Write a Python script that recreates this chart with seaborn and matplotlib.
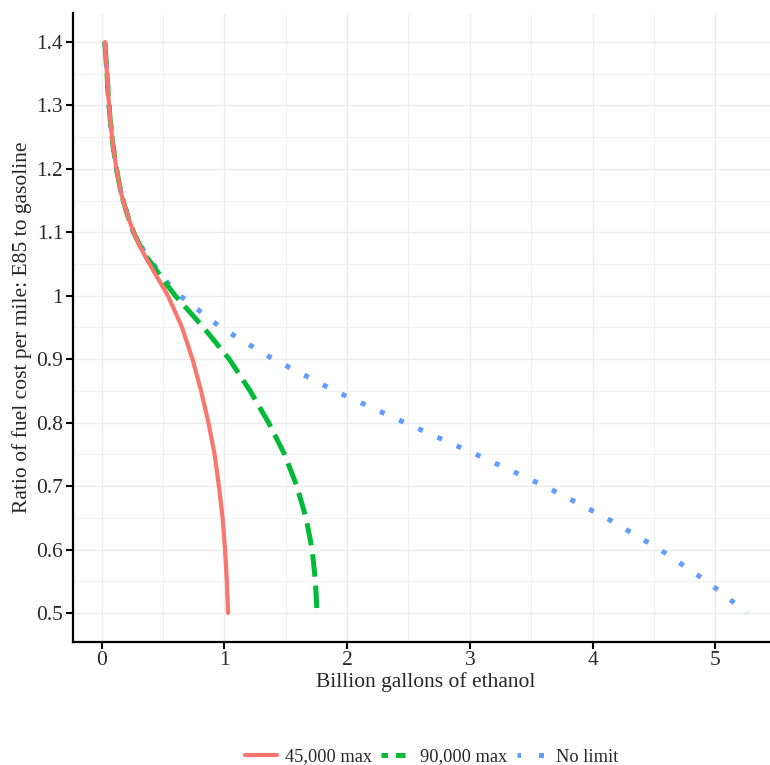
"""
E85 demand curves: fuel cost ratio vs. ethanol volume
"""

import matplotlib

matplotlib.use("Agg")
import matplotlib.pyplot as plt
import numpy as np
import pandas as pd
import seaborn as sns
from matplotlib.lines import Line2D
from matplotlib.ticker import MultipleLocator

# Ratio of fuel cost per mile (E85 / gasoline), shared by all three series
ratio = [1.40, 1.36, 1.32, 1.28, 1.24, 1.20, 1.16, 1.14, 1.12, 1.10, 1.08, 1.06, 1.05,
         1.02, 1.00, 0.95, 0.90, 0.85, 0.80, 0.75, 0.70, 0.65, 0.60, 0.55, 0.50]

# Billion gallons of ethanol for each scenario
gal_45k = [0.025, 0.04, 0.052, 0.068, 0.09, 0.12, 0.16, 0.19, 0.222, 0.26, 0.305, 0.36, 0.39,
           0.48, 0.54, 0.655, 0.74, 0.81, 0.87, 0.92, 0.955, 0.985, 1.005, 1.02, 1.03]
gal_90k = [0.025, 0.04, 0.052, 0.068, 0.09, 0.12, 0.16, 0.19, 0.222, 0.26, 0.31, 0.37, 0.41,
           0.52, 0.60, 0.83, 1.04, 1.21, 1.36, 1.49, 1.59, 1.665, 1.715, 1.742, 1.755]
gal_nolimit = [0.025, 0.04, 0.052, 0.068, 0.09, 0.12, 0.16, 0.19, 0.222, 0.26, 0.315, 0.38, 0.42,
               0.54, 0.64, 0.97, 1.40, 1.90, 2.47, 3.05, 3.61, 4.11, 4.55, 4.93, 5.26]

labels = ["45,000 max", "90,000 max", "No limit"]
colors = ["#F8766D", "#00BA38", "#619CFF"]

sns.set_theme(style="white")
plt.rcParams["font.family"] = ["Liberation Serif", "DejaVu Serif"]

fig = plt.figure(figsize=(7.7, 7.65), dpi=100)
ax = fig.add_axes([73 / 770, 1 - 641.5 / 765, (779 - 73) / 770, (641.5 - 13.5) / 765])

series = {labels[0]: gal_45k, labels[1]: gal_90k, labels[2]: gal_nolimit}
styles = {
    labels[0]: dict(linestyle="-", lw=3.0),
    labels[1]: dict(linestyle=(0, (4.5, 1.8)), lw=3.6),
    labels[2]: dict(linestyle=(0, (1, 3.2)), lw=3.6),
}

# draw back to front so red sits on top like the original
for name, color in zip(labels[::-1], colors[::-1]):
    df = pd.DataFrame({"gallons": series[name], "ratio": ratio})
    sns.lineplot(data=df, x="gallons", y="ratio", color=color, ax=ax,
                 sort=False, estimator=None, legend=False, **styles[name])

ax.set_xlim(-0.234, 5.52)
ax.set_ylim(0.455, 1.445)
ax.xaxis.set_major_locator(MultipleLocator(1))
ax.xaxis.set_minor_locator(MultipleLocator(0.5))
ax.yaxis.set_major_locator(MultipleLocator(0.1))
ax.yaxis.set_minor_locator(MultipleLocator(0.05))
ax.set_yticks(np.arange(0.5, 1.41, 0.1))
ax.set_yticklabels(["0.5", "0.6", "0.7", "0.8", "0.9", "1", "1.1", "1.2", "1.3", "1.4"])

ax.grid(which="major", color="#EBEBEB", lw=1.0)
ax.grid(which="minor", color="#F2F2F2", lw=0.8)
ax.set_axisbelow(True)

for side in ["top", "right"]:
    ax.spines[side].set_visible(False)
for side in ["left", "bottom"]:
    ax.spines[side].set_color("black")
    ax.spines[side].set_linewidth(1.6)

ax.tick_params(which="major", direction="out", length=5, width=1.5, color="black",
               labelsize=15.5, labelcolor="#2a2a2a", left=True, bottom=True, pad=2)
ax.tick_params(which="minor", length=0)

ax.set_xlabel("Billion gallons of ethanol", fontsize=15.5, labelpad=1)
ax.set_ylabel("Ratio of fuel cost per mile: E85 to gasoline", fontsize=15.5, labelpad=3)

# legend keys are short, so use tighter dash patterns there (two dashes / two dots)
legend_handles = [
    Line2D([], [], color=colors[0], lw=3.0, linestyle="-"),
    Line2D([], [], color=colors[1], lw=3.6, linestyle=(0.6, (1.9, 1.6))),
    Line2D([], [], color=colors[2], lw=3.6, linestyle=(0.3, (1, 3.6))),
]
fig.legend(legend_handles, labels, loc="center",
           bbox_to_anchor=(432 / 770, 1 - 757 / 765), ncol=3, frameon=False,
           fontsize=13.2, handlelength=1.7, columnspacing=0.5, handletextpad=0.45)

fig.savefig("out.png", dpi=100)
